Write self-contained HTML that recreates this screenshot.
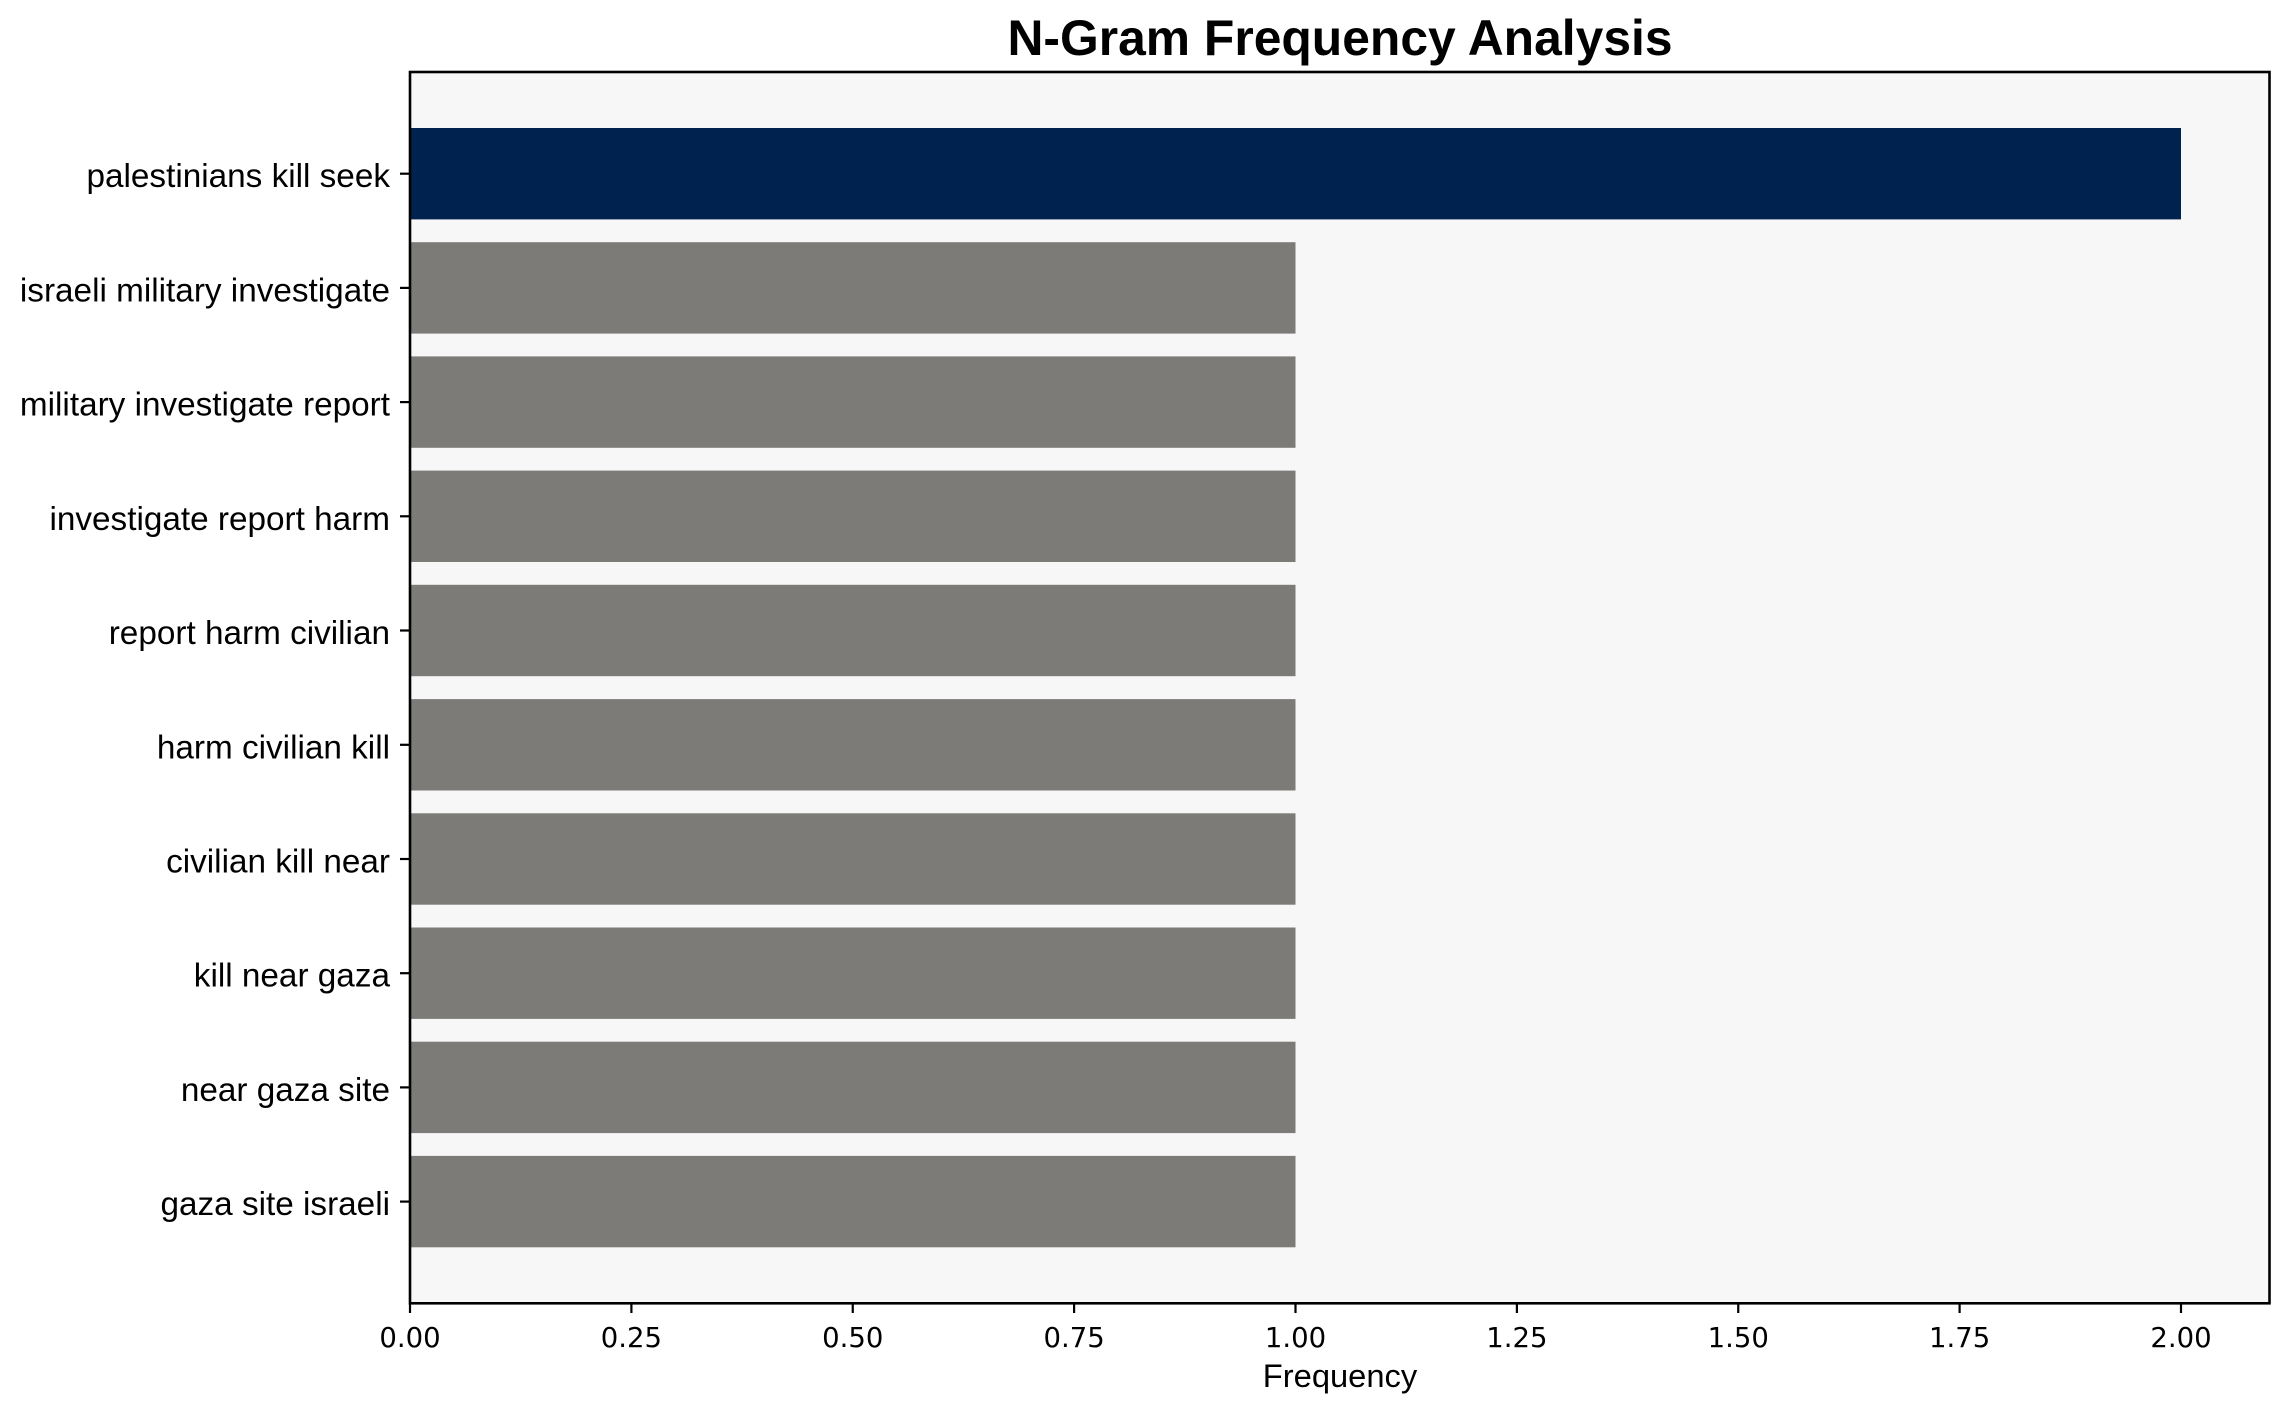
<!DOCTYPE html>
<html>
<head>
<meta charset="utf-8">
<style>
html,body{margin:0;padding:0;background:#ffffff;}
svg{display:block;}
</style>
</head>
<body>
<svg width="2290" height="1414" viewBox="0 0 2290 1414" xmlns="http://www.w3.org/2000/svg">
<rect x="0" y="0" width="2290" height="1414" fill="#ffffff"/>
<rect x="410" y="72" width="1859.5" height="1231.3" fill="#f7f7f7"/>
<g>
<rect x="410" y="128.0" width="1771" height="91.4" fill="#00224e"/>
<rect x="410" y="242.2" width="885.5" height="91.4" fill="#7c7b78"/>
<rect x="410" y="356.4" width="885.5" height="91.4" fill="#7c7b78"/>
<rect x="410" y="470.6" width="885.5" height="91.4" fill="#7c7b78"/>
<rect x="410" y="584.8" width="885.5" height="91.4" fill="#7c7b78"/>
<rect x="410" y="699.1" width="885.5" height="91.4" fill="#7c7b78"/>
<rect x="410" y="813.3" width="885.5" height="91.4" fill="#7c7b78"/>
<rect x="410" y="927.5" width="885.5" height="91.4" fill="#7c7b78"/>
<rect x="410" y="1041.7" width="885.5" height="91.4" fill="#7c7b78"/>
<rect x="410" y="1155.9" width="885.5" height="91.4" fill="#7c7b78"/>
</g>
<rect x="410" y="72" width="1859.5" height="1231.3" fill="none" stroke="#000" stroke-width="2.6"/>
<g stroke="#000" stroke-width="2.2">
<line x1="400" y1="173.7" x2="410" y2="173.7"/>
<line x1="400" y1="287.9" x2="410" y2="287.9"/>
<line x1="400" y1="402.1" x2="410" y2="402.1"/>
<line x1="400" y1="516.3" x2="410" y2="516.3"/>
<line x1="400" y1="630.5" x2="410" y2="630.5"/>
<line x1="400" y1="744.8" x2="410" y2="744.8"/>
<line x1="400" y1="859.0" x2="410" y2="859.0"/>
<line x1="400" y1="973.2" x2="410" y2="973.2"/>
<line x1="400" y1="1087.4" x2="410" y2="1087.4"/>
<line x1="400" y1="1201.6" x2="410" y2="1201.6"/>
<line x1="410" y1="1303" x2="410" y2="1313"/>
<line x1="631.4" y1="1303" x2="631.4" y2="1313"/>
<line x1="852.75" y1="1303" x2="852.75" y2="1313"/>
<line x1="1074.1" y1="1303" x2="1074.1" y2="1313"/>
<line x1="1295.5" y1="1303" x2="1295.5" y2="1313"/>
<line x1="1516.9" y1="1303" x2="1516.9" y2="1313"/>
<line x1="1738.25" y1="1303" x2="1738.25" y2="1313"/>
<line x1="1959.6" y1="1303" x2="1959.6" y2="1313"/>
<line x1="2181" y1="1303" x2="2181" y2="1313"/>
</g>
<g font-family="'Liberation Sans', Arial, sans-serif" font-size="33.3" fill="#000" text-anchor="end">
<text x="390" y="187.2">palestinians kill seek</text>
<text x="390" y="301.4">israeli military investigate</text>
<text x="390" y="415.6">military investigate report</text>
<text x="390" y="529.8">investigate report harm</text>
<text x="390" y="644.0">report harm civilian</text>
<text x="390" y="758.3">harm civilian kill</text>
<text x="390" y="872.5">civilian kill near</text>
<text x="390" y="986.7">kill near gaza</text>
<text x="390" y="1100.9">near gaza site</text>
<text x="390" y="1215.1">gaza site israeli</text>
</g>
<g font-family="'DejaVu Sans', sans-serif" font-size="27.5" fill="#000" text-anchor="middle">
<text x="410" y="1347">0.00</text>
<text x="631.4" y="1347">0.25</text>
<text x="852.75" y="1347">0.50</text>
<text x="1074.1" y="1347">0.75</text>
<text x="1295.5" y="1347">1.00</text>
<text x="1516.9" y="1347">1.25</text>
<text x="1738.25" y="1347">1.50</text>
<text x="1959.6" y="1347">1.75</text>
<text x="2181" y="1347">2.00</text>
</g>
<text x="1340" y="1387" font-family="'Liberation Sans', Arial, sans-serif" font-size="32.7" fill="#000" text-anchor="middle">Frequency</text>
<text x="1340" y="55" font-family="'Liberation Sans', Arial, sans-serif" font-size="49.8" font-weight="bold" fill="#000" text-anchor="middle">N-Gram Frequency Analysis</text>
</svg>
</body>
</html>
